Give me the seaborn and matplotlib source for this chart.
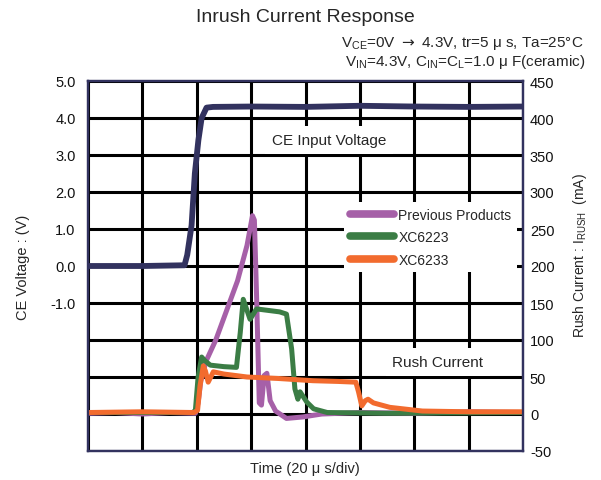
import matplotlib
matplotlib.use('Agg')
import matplotlib.pyplot as plt
from matplotlib.lines import Line2D
import seaborn as sns
import pandas as pd

# CE input voltage (V) vs time (us)
t_ce = [0, 20, 35.5, 36.5, 38.1, 39.3, 40.6, 41.8, 43.6, 46, 60, 80, 100, 120, 140, 160]
v_ce = [0, 0, 0.02, 0.3, 1.1, 2.5, 3.4, 4.0, 4.28, 4.3, 4.31, 4.3, 4.33, 4.31, 4.3, 4.31]

# rush current (mA) vs time (us)
t_prev = [0, 10, 20, 30, 39.5, 40.5, 41.5, 43.5, 47, 51, 55, 58.5, 60.5, 61.2, 62, 63, 63.8,
          64.8, 65.8, 67, 69, 73, 79, 86, 100, 120, 140, 160]
i_prev = [1, 2, 0, 2, 1, 15, 45, 72, 100, 140, 180, 228, 268, 262, 160, 15, 12,
          52, 55, 18, 4, -6, -4, 0, 2, 1, 3, 2]

t_6223 = [0, 20, 38.5, 39.5, 40.5, 41.8, 43, 45, 50, 54.6, 56, 57.1, 59.6, 62, 70.5, 73,
          74.9, 76.1, 77.2, 78, 80.5, 83, 88, 110, 160]
i_6223 = [2, 2, 2, 5, 50, 77, 72, 66, 64, 63, 110, 155, 128, 142, 138, 135,
          88, 34, 20, 30, 16, 7, 2, 1, 2]

t_6233 = [0, 20, 39, 40.3, 41.2, 42.4, 43.2, 44.2, 46.1, 50, 58.5, 70, 82.7, 92, 98.5, 99.5,
          100.7, 102, 103, 105, 111, 123, 140, 160]
i_6233 = [2, 3, 2, 5, 38, 65, 58, 43, 57, 54, 50, 48, 45, 44, 43, 30,
          11, 18, 20, 15, 9, 4, 3, 3]

products = ['Previous Products', 'XC6223', 'XC6233']

NAVY = '#32325f'
colors = ['#a660a8', '#3b7d45', '#f26b2e']

df_v = pd.DataFrame({'t': t_ce, 'v': v_ce})
df_i = pd.concat([
    pd.DataFrame({'t': t_prev, 'i': i_prev, 'product': products[0]}),
    pd.DataFrame({'t': t_6223, 'i': i_6223, 'product': products[1]}),
    pd.DataFrame({'t': t_6233, 'i': i_6233, 'product': products[2]}),
], ignore_index=True)

sns.set_theme(style='white')
plt.rcParams['font.family'] = ['Liberation Sans', 'DejaVu Sans']
plt.rcParams['axes.unicode_minus'] = False

fig = plt.figure(figsize=(6.01, 4.81), dpi=100)
ax = fig.add_axes([88 / 601, 29 / 481, 435 / 601, 370 / 481])
ax2 = ax.twinx()

sns.lineplot(data=df_v, x='t', y='v', ax=ax, color=NAVY, lw=4.2, estimator=None,
             sort=False, zorder=3)
sns.lineplot(data=df_i, x='t', y='i', hue='product', hue_order=products,
             palette=colors, ax=ax2, lw=3.6, estimator=None, sort=False, legend=False)

ax.set_xlim(0, 160)
ax.set_ylim(-5, 5)
ax2.set_ylim(-50, 450)
ax.set_xticks(range(0, 161, 20))
ax.set_xticklabels([])
ax.set_yticks(range(-5, 6))
ax.set_yticklabels([f'{v:.1f}' if v >= -1 else '' for v in range(-5, 6)])
ax2.set_yticks(range(-50, 451, 50))
ax.grid(True, color='black', lw=2.2)
ax2.grid(False)
ax.tick_params(length=0, pad=9, labelsize=10.5, colors='#111111')
ax2.tick_params(length=0, pad=5, labelsize=10.5, colors='#111111')
for a in (ax, ax2):
    for s in a.spines.values():
        s.set_color(NAVY)
        s.set_linewidth(1.6)

ax.set_xlabel('Time (20 μ s/div)', fontsize=10.5)
ax.xaxis.set_label_coords(0.499, -0.028)
ax.set_ylabel('CE Voltage : (V)', fontsize=10.5, va='center')
ax.yaxis.set_label_coords(-0.149, 0.5)
ax2.set_ylabel(r'Rush Current : I$_{\mathregular{RUSH}}$  (mA)', fontsize=10,
               va='center', rotation=90)
ax2.yaxis.set_label_coords(1.131, 0.532)

box = dict(boxstyle='square,pad=0.45', fc='white', ec='none')
ax.text(88.6, 3.40, 'CE Input Voltage', fontsize=11, ha='center', va='center',
        bbox=box, zorder=4)
ax.text(128.7, -2.6, 'Rush Current', fontsize=11, ha='center', va='center',
        bbox=box, zorder=4)

handles = [Line2D([], [], color=c, lw=5.5) for c in colors]
ax2.legend(handles, products, loc='upper left', bbox_to_anchor=(0.589, 0.672),
           borderaxespad=0, frameon=True, facecolor='white', edgecolor='none',
           framealpha=1, fancybox=False, fontsize=10, handlelength=3.2,
           handletextpad=0.3, labelspacing=0.6, borderpad=0.4)

fig.text(0.5075, 1 - 18 / 481, 'Inrush Current Response', fontsize=14,
         ha='center', va='center')
fig.text(583 / 601, 1 - 43 / 481,
         r'V$_{\mathregular{CE}}$=0V $\rightarrow$ 4.3V, tr=5 μ s, Ta=25°C',
         fontsize=11, ha='right', va='center')
fig.text(585 / 601, 1 - 62 / 481,
         r'V$_{\mathregular{IN}}$=4.3V, C$_{\mathregular{IN}}$=C$_{\mathregular{L}}$=1.0 μ F(ceramic)',
         fontsize=11, ha='right', va='center')

fig.savefig('out.png', dpi=100)
